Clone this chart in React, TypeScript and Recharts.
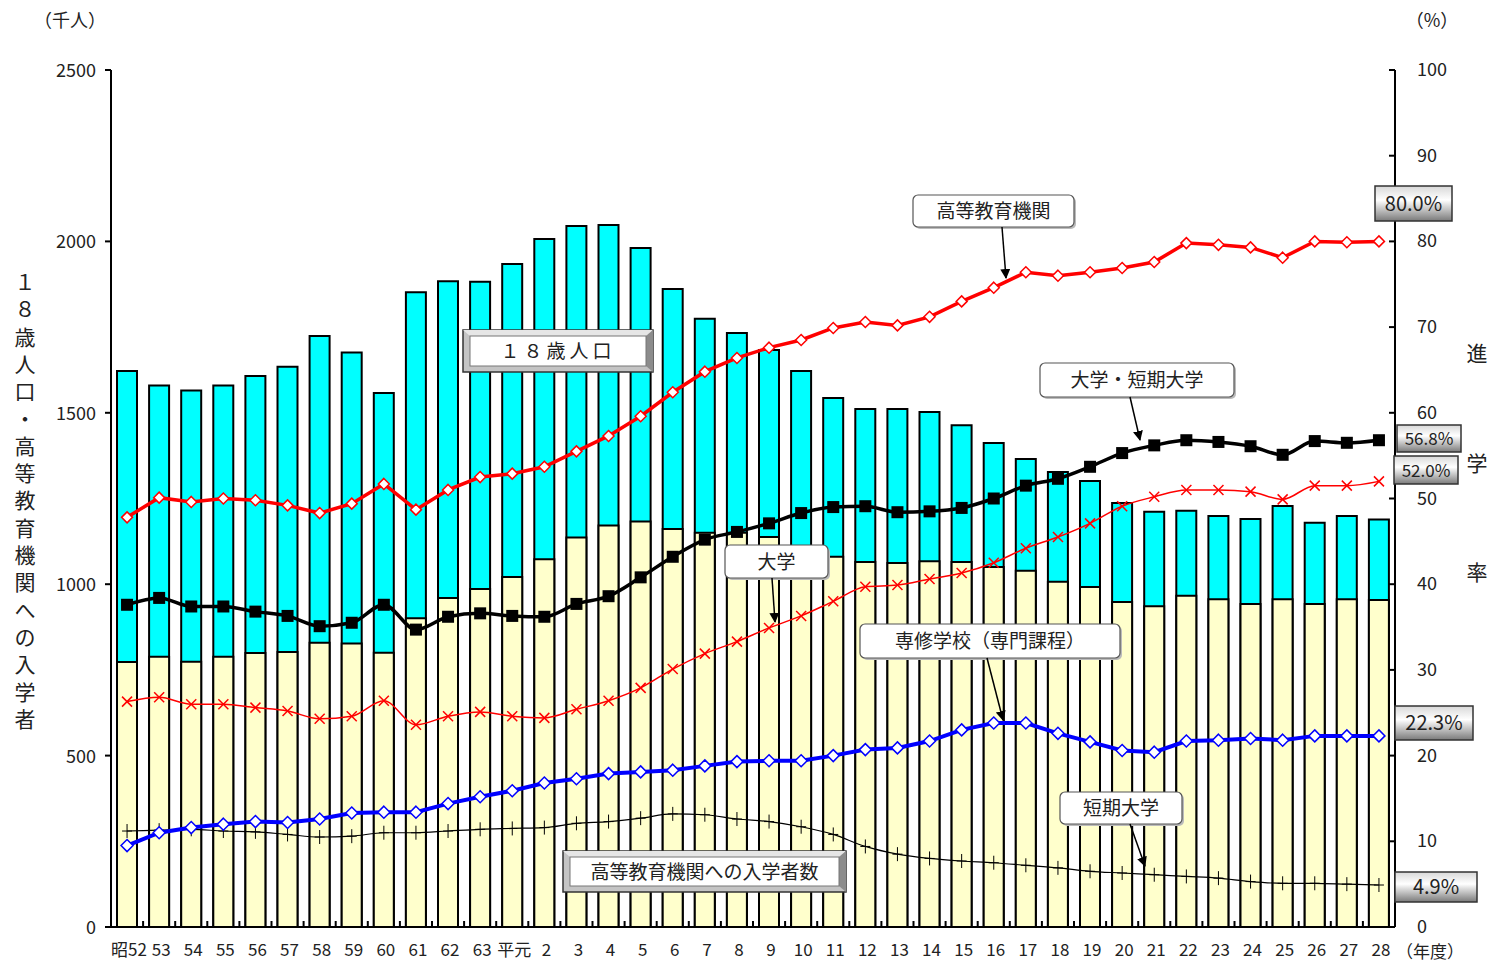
import React from "react";
import { ComposedChart, Bar, Line, XAxis, YAxis } from "recharts";

const years = [
  "昭52", "53", "54", "55", "56", "57", "58", "59", "60", "61", "62", "63",
  "平元", "2", "3", "4", "5", "6", "7", "8", "9", "10", "11", "12", "13", "14",
  "15", "16", "17", "18", "19", "20", "21", "22", "23", "24", "25", "26", "27", "28",
];

// 18歳人口 (千人)
const pop18 = [
  1622, 1580, 1565, 1580, 1607, 1634, 1724, 1676, 1558, 1852, 1884, 1882,
  1934, 2007, 2045, 2048, 1981, 1861, 1774, 1733, 1683, 1622, 1543, 1511, 1511, 1502,
  1464, 1412, 1365, 1327, 1301, 1237, 1211, 1214, 1199, 1190, 1228, 1179, 1199, 1189,
];

// 高等教育機関への入学者数 (千人)
const entrants = [
  773, 788, 774, 788, 799, 802, 829, 827, 800, 901, 960, 986,
  1021, 1073, 1136, 1171, 1183, 1161, 1150, 1150, 1138, 1111, 1080, 1065, 1062, 1067,
  1065, 1050, 1039, 1007, 992, 948, 936, 966, 956, 942, 956, 942, 956, 954,
];

// 進学率 (%)
const rateHigher = [
  47.8, 50.1, 49.6, 50.0, 49.8, 49.2, 48.3, 49.4, 51.7, 48.7, 51.0, 52.5,
  52.9, 53.7, 55.5, 57.3, 59.6, 62.4, 64.8, 66.4, 67.6, 68.5, 69.9, 70.6, 70.2, 71.2,
  73.0, 74.6, 76.4, 76.0, 76.4, 76.9, 77.6, 79.8, 79.6, 79.3, 78.1, 80.0, 79.9, 80.0,
];
const rateUnivJc = [
  37.6, 38.4, 37.4, 37.4, 36.8, 36.3, 35.1, 35.5, 37.6, 34.7, 36.2, 36.6,
  36.3, 36.2, 37.7, 38.6, 40.8, 43.2, 45.2, 46.1, 47.1, 48.3, 49.0, 49.1, 48.4, 48.5,
  48.9, 50.0, 51.5, 52.3, 53.7, 55.3, 56.2, 56.8, 56.6, 56.1, 55.1, 56.7, 56.5, 56.8,
];
const rateUniv = [
  26.3, 26.8, 26.0, 26.0, 25.6, 25.2, 24.3, 24.6, 26.4, 23.6, 24.6, 25.1,
  24.6, 24.4, 25.4, 26.4, 27.9, 30.1, 31.9, 33.3, 34.9, 36.3, 38.0, 39.7, 39.9, 40.6,
  41.3, 42.5, 44.2, 45.5, 47.1, 49.1, 50.2, 51.0, 51.0, 50.8, 49.9, 51.5, 51.5, 52.0,
];
const rateSenshu = [
  9.5, 11.0, 11.6, 12.0, 12.3, 12.2, 12.6, 13.3, 13.4, 13.4, 14.4, 15.2,
  15.9, 16.8, 17.3, 17.9, 18.1, 18.3, 18.8, 19.3, 19.4, 19.4, 20.0, 20.7, 20.9, 21.7,
  23.0, 23.8, 23.8, 22.6, 21.6, 20.6, 20.4, 21.7, 21.8, 22.0, 21.8, 22.3, 22.3, 22.3,
];
const rateJc = [
  11.2, 11.3, 11.4, 11.2, 11.1, 10.8, 10.5, 10.6, 11.0, 11.0, 11.2, 11.4,
  11.5, 11.6, 12.1, 12.3, 12.7, 13.2, 13.1, 12.6, 12.3, 11.7, 10.8, 9.4, 8.5, 8.0,
  7.7, 7.5, 7.2, 6.9, 6.5, 6.3, 6.1, 5.9, 5.7, 5.3, 5.1, 5.1, 5.0, 4.9,
];

const leftTicks = [0, 500, 1000, 1500, 2000, 2500];
const rightTicks = [0, 10, 20, 30, 40, 50, 60, 70, 80, 90, 100];

const rows = years.map((year, i) => ({
  year,
  pop18: pop18[i],
  entrants: entrants[i],
  higher: rateHigher[i],
  univJc: rateUnivJc[i],
  univ: rateUniv[i],
  senshu: rateSenshu[i],
  jc: rateJc[i],
}));

const FONT = '"Noto Sans CJK JP", "Noto Sans", sans-serif';
const TXT = "#222";
const PLOT_W = 1490 - 111 - 95;
const BAND = PLOT_W / years.length;

const LeftTick = (props: any) => {
  const { x, y, payload } = props;
  return (
    <g>
      <line x1={x - 6} y1={y} x2={x} y2={y} stroke="#000" strokeWidth={2} />
      <text x={x - 15} y={y + 7} textAnchor="end" fontSize={18} fill={TXT} fontFamily={FONT}>
        {payload.value}
      </text>
    </g>
  );
};

const RightTick = (props: any) => {
  const { x, y, payload } = props;
  return (
    <g>
      <line x1={x - 6} y1={y} x2={x} y2={y} stroke="#000" strokeWidth={2} />
      <text x={x + 22} y={y + 6} textAnchor="start" fontSize={18} fill={TXT} fontFamily={FONT}>
        {payload.value}
      </text>
    </g>
  );
};

const XTick = (props: any) => {
  const { x, y, payload, index } = props;
  const edge = x + BAND / 2;
  return (
    <g>
      {index === 0 && (
        <line x1={x - BAND / 2} y1={y} x2={x - BAND / 2} y2={y - 6} stroke="#000" strokeWidth={2} />
      )}
      <line x1={edge} y1={y} x2={edge} y2={y - 6} stroke="#000" strokeWidth={2} />
      <text x={x + 2} y={y + 29} textAnchor="middle" fontSize={17} fill={TXT} fontFamily={FONT}>
        {payload.value}
      </text>
    </g>
  );
};

const diamond = (color: string, r: number) => (p: any) => {
  const { cx, cy, index } = p;
  if (cx == null || cy == null) return <g key={index} />;
  return (
    <path
      key={index}
      d={`M${cx},${cy - r}L${cx + r},${cy}L${cx},${cy + r}L${cx - r},${cy}Z`}
      fill="#fff"
      stroke={color}
      strokeWidth={1.5}
    />
  );
};

const squareDot = (p: any) => {
  const { cx, cy, index } = p;
  if (cx == null || cy == null) return <g key={index} />;
  return <rect key={index} x={cx - 6} y={cy - 6} width={12} height={12} fill="#000" />;
};

const crossDot = (p: any) => {
  const { cx, cy, index } = p;
  if (cx == null || cy == null) return <g key={index} />;
  const r = 5;
  return (
    <g key={index} stroke="#ff0000" strokeWidth={1.5}>
      <line x1={cx - r} y1={cy - r} x2={cx + r} y2={cy + r} />
      <line x1={cx - r} y1={cy + r} x2={cx + r} y2={cy - r} />
    </g>
  );
};

const plusDot = (p: any) => {
  const { cx, cy, index } = p;
  if (cx == null || cy == null) return <g key={index} />;
  return (
    <g key={index} stroke="#000" strokeWidth={1}>
      <line x1={cx} y1={cy - 7} x2={cx} y2={cy + 7} />
      <line x1={cx - 5} y1={cy} x2={cx + 5} y2={cy} />
    </g>
  );
};

const Callout = ({ x, y, w, h, text, ax1, ay1, ax2, ay2 }: any) => (
  <g>
    <rect x={x + 2} y={y + 2} width={w} height={h} rx={5} fill="#bbb" />
    <rect x={x} y={y} width={w} height={h} rx={5} fill="#fff" stroke="#555" strokeWidth={1.2} />
    <text x={x + w / 2} y={y + h / 2 + 7} textAnchor="middle" fontSize={19} fill={TXT} fontFamily={FONT}>
      {text}
    </text>
    <line x1={ax1} y1={ay1} x2={ax2} y2={ay2} stroke="#000" strokeWidth={1.5} markerEnd="url(#arrow)" />
  </g>
);

const BevelBox = ({ x, y, w, h, text, spacing }: any) => (
  <g>
    <rect x={x} y={y} width={w} height={h} fill="#c4c4c4" stroke="#333" strokeWidth={1.5} />
    <polygon points={`${x},${y} ${x + w},${y} ${x + w - 7},${y + 6} ${x + 7},${y + 6}`} fill="#e6e6e6" />
    <polygon points={`${x + w},${y} ${x + w},${y + h} ${x + w - 7},${y + h - 6} ${x + w - 7},${y + 6}`} fill="#8c8c8c" />
    <rect x={x + 7} y={y + 6} width={w - 14} height={h - 12} fill="#fff" stroke="#777" strokeWidth={1} />
    <text
      x={x + w / 2}
      y={y + h / 2 + 7}
      textAnchor="middle"
      fontSize={19}
      fill={TXT}
      fontFamily={FONT}
      letterSpacing={spacing || 0}
    >
      {text}
    </text>
  </g>
);

const ValueBox = ({ x, y, w, h, text, size = 17, base }: any) => (
  <g>
    <rect x={x} y={y} width={w} height={h} fill="url(#valGrad)" stroke="#333" strokeWidth={1.5} />
    <text
      x={x + w / 2}
      y={base != null ? y + base : y + h - 7}
      textAnchor="middle"
      fontSize={size}
      fill={TXT}
      fontFamily={FONT}
    >
      {text}
    </text>
  </g>
);

const leftLabel = ["１", "８", "歳", "人", "口", "・", "高", "等", "教", "育", "機", "関", "へ", "の", "入", "学", "者"];

export default function App() {
  return (
    <div style={{ position: "absolute", left: 0, top: 0, width: 1490, height: 962, background: "#fff", fontFamily: FONT }}>
      <ComposedChart
        width={1490}
        height={962}
        data={rows}
        margin={{ top: 70, right: 0, bottom: 5, left: 0 }}
        barSize={20}
        barGap={-20}
      >
        <XAxis
          dataKey="year"
          height={30}
          interval={0}
          tickSize={0}
          tickMargin={0}
          tick={<XTick />}
          axisLine={{ stroke: "#000", strokeWidth: 2 }}
        />
        <YAxis
          yAxisId="left"
          width={111}
          domain={[0, 2500]}
          ticks={leftTicks}
          tickSize={0}
          tickMargin={0}
          tick={<LeftTick />}
          axisLine={{ stroke: "#000", strokeWidth: 2 }}
        />
        <YAxis
          yAxisId="right"
          orientation="right"
          width={95}
          domain={[0, 100]}
          ticks={rightTicks}
          tickSize={0}
          tickMargin={0}
          tick={<RightTick />}
          axisLine={{ stroke: "#000", strokeWidth: 2 }}
        />
        <Bar yAxisId="left" dataKey="pop18" fill="#00ffff" stroke="#000" strokeWidth={2} isAnimationActive={false} />
        <Bar yAxisId="left" dataKey="entrants" fill="#ffffcc" stroke="#000" strokeWidth={2} isAnimationActive={false} />
        <Line
          yAxisId="right"
          type="monotone"
          dataKey="jc"
          stroke="#000"
          strokeWidth={1.2}
          dot={plusDot}
          activeDot={false}
          isAnimationActive={false}
        />
        <Line
          yAxisId="right"
          type="linear"
          dataKey="senshu"
          stroke="#0000ff"
          strokeWidth={4}
          dot={diamond("#0000ff", 6)}
          activeDot={false}
          isAnimationActive={false}
        />
        <Line
          yAxisId="right"
          type="monotone"
          dataKey="univ"
          stroke="#ff0000"
          strokeWidth={1.5}
          dot={crossDot}
          activeDot={false}
          isAnimationActive={false}
        />
        <Line
          yAxisId="right"
          type="monotone"
          dataKey="univJc"
          stroke="#000"
          strokeWidth={3.5}
          dot={squareDot}
          activeDot={false}
          isAnimationActive={false}
        />
        <Line
          yAxisId="right"
          type="linear"
          dataKey="higher"
          stroke="#ff0000"
          strokeWidth={3.5}
          dot={diamond("#ff0000", 5.5)}
          activeDot={false}
          isAnimationActive={false}
        />
      </ComposedChart>

      <svg
        width={1490}
        height={962}
        style={{ position: "absolute", left: 0, top: 0, pointerEvents: "none" }}
      >
        <defs>
          <marker id="arrow" markerWidth="10" markerHeight="10" refX="9" refY="5" orient="auto" markerUnits="userSpaceOnUse">
            <path d="M0,0 L10,5 L0,10 Z" fill="#000" />
          </marker>
          <linearGradient id="valGrad" x1="0" y1="0" x2="0" y2="1">
            <stop offset="0" stopColor="#d8d8d8" />
            <stop offset="0.4" stopColor="#ffffff" />
            <stop offset="1" stopColor="#7a7a7a" />
          </linearGradient>
        </defs>

        <text x={70} y={27} textAnchor="middle" fontSize={18} fill={TXT} fontFamily={FONT}>（千人）</text>
        <text x={1432} y={27} textAnchor="middle" fontSize={18} fill={TXT} fontFamily={FONT}>（%）</text>

        {leftLabel.map((c, i) => (
          <text key={i} x={25} y={290 + i * 27.3} textAnchor="middle" fontSize={21} fill={TXT} fontFamily={FONT}>
            {c}
          </text>
        ))}
        <text x={1477} y={361} textAnchor="middle" fontSize={21} fill={TXT} fontFamily={FONT}>進</text>
        <text x={1477} y={471} textAnchor="middle" fontSize={21} fill={TXT} fontFamily={FONT}>学</text>
        <text x={1477} y={580} textAnchor="middle" fontSize={21} fill={TXT} fontFamily={FONT}>率</text>

        <text x={1430} y={958} textAnchor="middle" fontSize={17} fill={TXT} fontFamily={FONT}>（年度）</text>

        <ValueBox x={1375} y={186} w={77} h={35} text="80.0%" size={20} base={25} />
        <ValueBox x={1397} y={425} w={64} h={27} text="56.8%" />
        <ValueBox x={1394} y={456} w={64} h={28} text="52.0%" />
        <ValueBox x={1395} y={706} w={78} h={34} text="22.3%" size={20} base={24} />
        <ValueBox x={1395} y={872} w={82} h={30} text="4.9%" size={20} base={22} />

        <Callout x={913} y={195} w={161} h={32} text="高等教育機関" ax1={1002} ay1={227} ax2={1006} ay2={278} />
        <Callout x={1040} y={363} w={194} h={34} text="大学・短期大学" ax1={1130} ay1={397} ax2={1140} ay2={440} />
        <Callout x={725} y={545} w={103} h={33} text="大学" ax1={772} ay1={578} ax2={775} ay2={622} />
        <Callout x={860} y={624} w={260} h={34} text="専修学校（専門課程）" ax1={987} ay1={658} ax2={1003} ay2={720} />
        <Callout x={1060} y={792} w={122} h={32} text="短期大学" ax1={1130} ay1={824} ax2={1145} ay2={866} />

        <BevelBox x={463} y={330} w={190} h={42} text="１８歳人口" spacing={4} />
        <BevelBox x={563} y={851} w={283} h={41} text="高等教育機関への入学者数" />
      </svg>
    </div>
  );
}
